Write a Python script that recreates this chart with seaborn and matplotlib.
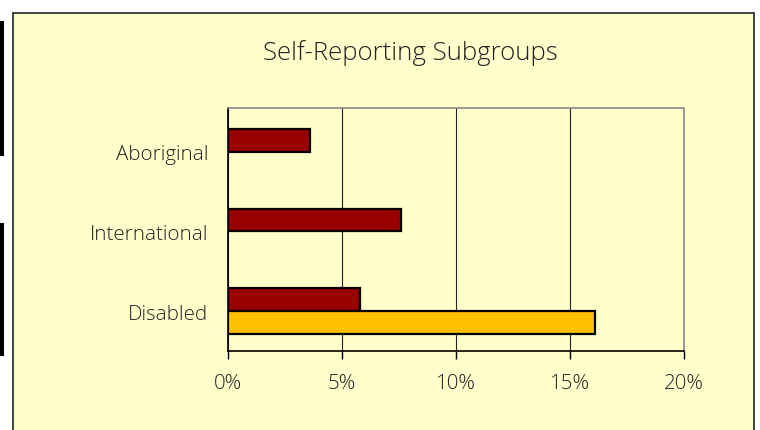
import matplotlib
matplotlib.use("Agg")
import matplotlib.pyplot as plt
from matplotlib.patches import Rectangle
from matplotlib.ticker import FuncFormatter
import seaborn as sns
import pandas as pd

categories = ["Aboriginal", "International", "Disabled"]
series_a = [3.6, 7.6, 5.8]          # dark red
series_b_cat = ["Disabled"]
series_b = [16.1]                   # gold
hue_levels = ["A", "B"]
x_ticks = [0, 5, 10, 15, 20]
title = "Self-Reporting Subgroups"

rows = [{"cat": c, "val": v, "grp": "A"} for c, v in zip(categories, series_a)]
rows += [{"cat": c, "val": v, "grp": "B"} for c, v in zip(series_b_cat, series_b)]
df = pd.DataFrame(rows)

sns.set_style("white")
plt.rcParams["font.family"] = ["Open Sans", "DejaVu Sans"]
plt.rcParams["font.weight"] = "light"

W, H = 760, 431
fig = plt.figure(figsize=(W / 100, H / 100), dpi=100, facecolor="white")

# outer chart frame (bottom edge lies below the image)
fig.add_artist(Rectangle((13 / W, -0.05), (754 - 13) / W, 1.05 - 14 / H, transform=fig.transFigure,
                         facecolor="#FFFFCC", edgecolor="#333333", linewidth=1.3, zorder=0))
# left edge artifacts
fig.add_artist(Rectangle((0, 1 - 157 / H), 4 / W, 135 / H, transform=fig.transFigure,
                         facecolor="black", edgecolor="none", zorder=0))
fig.add_artist(Rectangle((0, 1 - 357 / H), 4 / W, 133 / H, transform=fig.transFigure,
                         facecolor="black", edgecolor="none", zorder=0))

ax = fig.add_axes([228 / W, 1 - 352 / H, (684 - 228) / W, (352 - 109) / H])
ax.set_facecolor("#FFFFCC")

sns.barplot(data=df, y="cat", x="val", hue="grp", hue_order=hue_levels, order=categories,
            orient="h", palette={"A": "#990000", "B": "#FFC000"}, width=0.57, saturation=1,
            edgecolor="black", linewidth=1.6, legend=False, ax=ax, zorder=3)

ax.set_xlim(0, 20)
ax.set_ylim(2.5, -0.55)
ax.set_xticks(x_ticks)
ax.xaxis.set_major_formatter(FuncFormatter(lambda v, p: f"{v:.0f}%"))
ax.set_yticks([0, 1, 2])
ax.set_yticklabels(categories)
ax.set_yticks([-0.55, 0.5, 1.5, 2.5], minor=True)
ax.tick_params(axis="y", which="major", length=0, pad=14, labelsize=14.8, labelcolor="#222222")
ax.tick_params(axis="y", which="minor", length=6, width=1, color="black", direction="out")
ax.tick_params(axis="x", length=6, width=1, color="black", direction="out", pad=10,
               labelsize=14.8, labelcolor="#222222", bottom=True)
ax.set_xlabel("")
ax.set_ylabel("")

ax.grid(axis="x", color="#222222", linewidth=0.8, zorder=0)
ax.set_axisbelow(True)
for s in ["top", "right"]:
    ax.spines[s].set_color("#888888")
    ax.spines[s].set_linewidth(1.2)
for s in ["left", "bottom"]:
    ax.spines[s].set_color("black")
    ax.spines[s].set_linewidth(1.2)

fig.text(410 / W, 1 - 53 / H, title, ha="center", va="center", fontsize=18.5, color="#222222")

fig.savefig("out.png", dpi=100, facecolor="white")
